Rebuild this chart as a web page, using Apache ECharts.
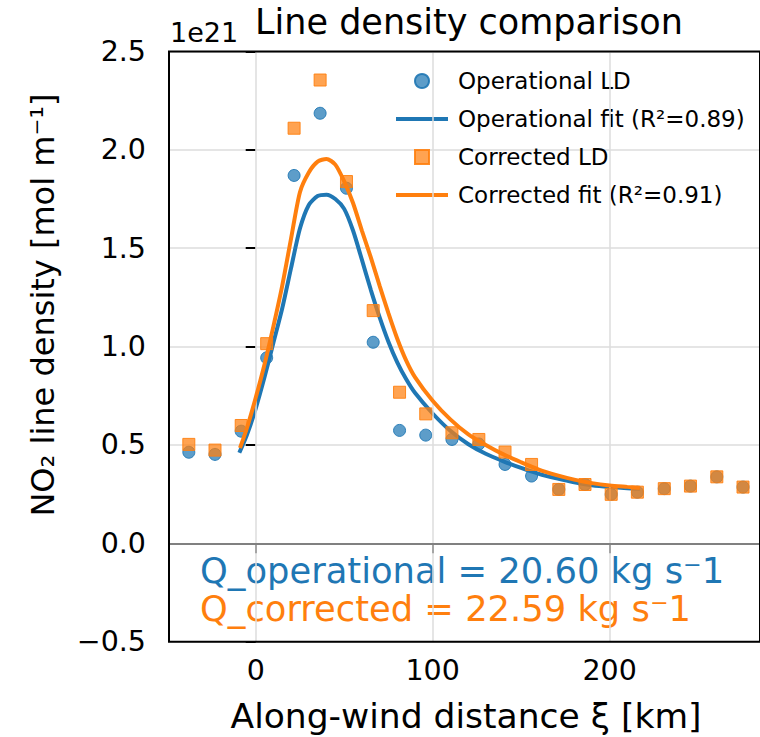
<!DOCTYPE html>
<html>
<head>
<meta charset="utf-8">
<script src="https://cdn.jsdelivr.net/npm/echarts@6/dist/echarts.min.js"></script>
<style>
html,body{margin:0;padding:0;background:#fff;}
#chart{width:760px;height:737px;}
</style>
</head>
<body>
<div id="chart"></div>
<script>
// ---- data ----
var xPoints = [-37.8, -23.0, -8.2, 6.2, 21.7, 36.4, 51.3, 66.4, 81.3, 96.1, 110.9, 126.1, 140.9, 155.9, 171.3, 186.1, 200.9, 215.7, 230.9, 245.7, 260.6, 275.4];
var operationalLD = [0.463, 0.452, 0.570, 0.943, 1.870, 2.186, 1.805, 1.022, 0.574, 0.550, 0.528, 0.505, 0.401, 0.342, 0.274, 0.299, 0.249, 0.260, 0.278, 0.291, 0.338, 0.286];
var correctedLD   = [0.503, 0.474, 0.599, 1.015, 2.110, 2.355, 1.839, 1.183, 0.768, 0.658, 0.562, 0.528, 0.464, 0.401, 0.274, 0.299, 0.249, 0.260, 0.278, 0.291, 0.338, 0.286];

var opFitX = [-8.8, -5, 0, 5, 10, 15, 20, 25, 30, 35, 40, 45, 50, 55, 60, 65, 70, 75, 80, 85, 90, 100, 110, 120, 130, 140, 150, 160, 170, 180, 190, 200, 210, 216];
var opFitY = [0.470, 0.550, 0.685, 0.845, 1.020, 1.195, 1.400, 1.600, 1.720, 1.765, 1.772, 1.750, 1.700, 1.590, 1.442, 1.290, 1.150, 1.025, 0.920, 0.835, 0.765, 0.660, 0.572, 0.505, 0.455, 0.417, 0.383, 0.353, 0.330, 0.310, 0.295, 0.286, 0.280, 0.278];
var coFitX = [-8.5, -5, 0, 5, 10, 15, 20, 25, 30, 35, 40, 45, 50, 55, 60, 65, 70, 75, 80, 85, 90, 100, 110, 120, 130, 140, 150, 160, 170, 180, 190, 200, 210, 216];
var coFitY = [0.494, 0.585, 0.740, 0.910, 1.103, 1.310, 1.550, 1.785, 1.885, 1.940, 1.954, 1.925, 1.840, 1.730, 1.590, 1.455, 1.310, 1.170, 1.040, 0.930, 0.845, 0.725, 0.630, 0.555, 0.500, 0.452, 0.412, 0.375, 0.347, 0.324, 0.306, 0.294, 0.287, 0.283];

var xTicks = [0, 100, 200];
var yMin = -0.5, yMax = 2.5, yStep = 0.5;
var xMin = -49, xMax = 285;

var legendNames = ['Operational LD', 'Operational fit (R\u00B2=0.89)', 'Corrected LD', 'Corrected fit (R\u00B2=0.91)'];
var titleText = 'Line density comparison';
var xLabel = 'Along-wind distance \u03BE [km]';
var yLabel = 'NO\u2082 line density [mol m\u207B\u00B9]';
var qOperational = 'Q_operational = 20.60 kg s\u207B1';
var qCorrected = 'Q_corrected = 22.59 kg s\u207B1';
var offsetText = '1e21';

function zip(a, b) { return a.map(function (v, i) { return [v, b[i]]; }); }

var BLUE = '#1f77b4', ORANGE = '#ff7f0e';
var FONT = 'DejaVu Sans';
var LINE_ICON = 'path://M0,0H52V4H0Z';

var chart = echarts.init(document.getElementById('chart'), null, {renderer: 'svg'});
chart.setOption({
  animation: false,
  backgroundColor: '#fff',
  grid: {left: 169, top: 51.5, right: -10, bottom: 95.3, show: true, borderColor: '#000', borderWidth: 2, backgroundColor: 'transparent', z: 10},
  xAxis: {
    type: 'value', min: xMin, max: xMax,
    axisLine: {show: false},
    axisTick: {show: true, customValues: xTicks, length: 10, lineStyle: {color: '#000', width: 2}},
    axisLabel: {show: true, customValues: xTicks, fontSize: 28.5, fontFamily: FONT, color: '#000', margin: 14},
    splitLine: {show: false}
  },
  yAxis: {
    type: 'value', min: yMin, max: yMax, interval: yStep,
    axisLine: {show: false},
    axisTick: {show: true, length: 10, lineStyle: {color: '#000', width: 2}},
    axisLabel: {fontSize: 28.5, fontFamily: FONT, color: '#000', margin: 23,
      formatter: function (v) { return (v < 0 ? '\u2212' : '') + Math.abs(v).toFixed(1); }},
    splitLine: {show: true, lineStyle: {color: '#dddddd', width: 1.5}}
  },
  legend: {
    orient: 'vertical', left: 391, top: 64, itemWidth: 52, itemHeight: 14, itemGap: 14,
    symbolKeepAspect: true,
    textStyle: {fontSize: 23, fontFamily: FONT, color: '#000', lineHeight: 24, padding: [0, 0, 0, 5]},
    data: [
      {name: legendNames[0], icon: 'circle'},
      {name: legendNames[1], icon: LINE_ICON},
      {name: legendNames[2], icon: 'path://M0,0H10V10H0Z'},
      {name: legendNames[3], icon: LINE_ICON}
    ]
  },
  graphic: [
    {type: 'text', left: 170, top: 19, style: {text: offsetText, font: '27px "DejaVu Sans"', fill: '#000'}},
    {type: 'text', x: 469, y: 22, style: {text: titleText, font: '35px "DejaVu Sans"', fill: '#000', textAlign: 'center', textVerticalAlign: 'middle'}},
    {type: 'text', x: 466, y: 716, style: {text: xLabel, font: '34.5px "DejaVu Sans"', fill: '#000', textAlign: 'center', textVerticalAlign: 'middle'}},
    {type: 'text', x: 43, y: 305, rotation: Math.PI / 2, style: {text: yLabel, font: '32px "DejaVu Sans"', fill: '#000', textAlign: 'center', textVerticalAlign: 'middle'}},
    {type: 'text', x: 200, y: 570, style: {text: qOperational, font: '35.3px "DejaVu Sans"', fill: BLUE, textVerticalAlign: 'middle'}},
    {type: 'text', x: 200, y: 608, style: {text: qCorrected, font: '35.3px "DejaVu Sans"', fill: ORANGE, textVerticalAlign: 'middle'}}
  ],
  series: [
    {
      name: 'grid', type: 'scatter', data: [], z: 1, silent: true,
      markLine: {
        silent: true, symbol: 'none', label: {show: false}, animation: false,
        data: [
          {xAxis: xTicks[0], lineStyle: {color: '#dddddd', width: 1.5, type: 'solid'}},
          {xAxis: xTicks[1], lineStyle: {color: '#dddddd', width: 1.5, type: 'solid'}},
          {xAxis: xTicks[2], lineStyle: {color: '#dddddd', width: 1.5, type: 'solid'}},
          {yAxis: 0, lineStyle: {color: '#808080', width: 2, type: 'solid'}}
        ]
      }
    },
    {
      name: legendNames[0], type: 'scatter', z: 3, symbol: 'circle', symbolSize: 12,
      data: zip(xPoints, operationalLD),
      itemStyle: {color: 'rgba(31,119,180,0.72)', borderColor: 'rgba(31,119,180,0.9)', borderWidth: 1, opacity: 1}
    },
    {
      name: legendNames[1], type: 'line', z: 4, showSymbol: false, symbol: 'none', smooth: 0.25,
      data: zip(opFitX, opFitY),
      lineStyle: {color: BLUE, width: 4, cap: 'square'}, itemStyle: {color: BLUE}
    },
    {
      name: legendNames[2], type: 'scatter', z: 5, symbol: 'rect', symbolSize: 12,
      data: zip(xPoints, correctedLD),
      itemStyle: {color: 'rgba(255,127,14,0.72)', borderColor: 'rgba(255,127,14,0.9)', borderWidth: 1, opacity: 1}
    },
    {
      name: legendNames[3], type: 'line', z: 6, showSymbol: false, symbol: 'none', smooth: 0.25,
      data: zip(coFitX, coFitY),
      lineStyle: {color: ORANGE, width: 4, cap: 'square'}, itemStyle: {color: ORANGE}
    }
  ]
});
</script>
</body>
</html>
